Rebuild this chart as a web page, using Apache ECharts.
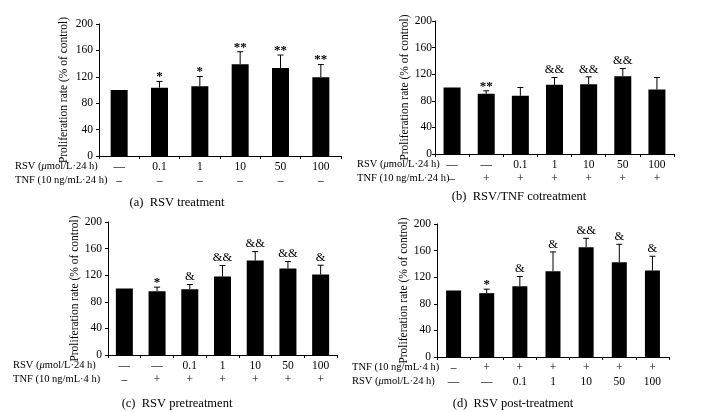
<!DOCTYPE html>
<html><head><meta charset="utf-8">
<script src="https://cdn.jsdelivr.net/npm/echarts@6/dist/echarts.min.js"></script>
<style>html,body{margin:0;padding:0;background:#fff}#c{width:708px;height:412px}</style>
</head><body><div id="c"></div>
<script>
// Panel (a) RSV treatment
const rowA1 = ['—','0.1','1','10','50','100'];
const rowA2 = ['–','–','–','–','–','–'];
const meanA = [100,103.5,105.5,139,133.5,119.5];
const errA  = [0,9.5,15,19,19.5,19];
const sigA  = ['','*','*','**','**','**'];
// Panel (b) RSV/TNF cotreatment
const rowB1 = ['—','—','0.1','1','10','50','100'];
const rowB2 = ['–','+','+','+','+','+','+'];
const meanB = [100,90.5,87.5,104,105,117,97];
const errB  = [0,4.5,12.5,11,11,11.5,18];
const sigB  = ['','**','','&&','&&','&&',''];
// Panel (c) RSV pretreatment
const rowC1 = ['—','—','0.1','1','10','50','100'];
const rowC2 = ['–','+','+','+','+','+','+'];
const meanC = [100,96,99,118,142,130,121];
const errC  = [0,6,7,16.5,13.5,10.5,14];
const sigC  = ['','*','&','&&','&&','&&','&'];
// Panel (d) RSV post-treatment
const rowD1 = ['–','+','+','+','+','+','+'];
const rowD2 = ['—','—','0.1','1','10','50','100'];
const meanD = [100,96,106.5,129,165,142.5,130];
const errD  = [0,6,14.5,29,13.5,27,21.5];
const sigD  = ['','*','&','&','&&','&','&'];

const yTicks = [0,40,80,120,160,200];
const yTitle = 'Proliferation rate (% of control)';
const captions = ['(a)  RSV treatment','(b)  RSV/TNF cotreatment','(c)  RSV pretreatment','(d)  RSV post-treatment'];
const rowNames = [
  ['RSV (','μ','mol/L·24 h)','TNF (10 ng/mL·24 h)', 'rsvFirst'],
  ['RSV (','μ','mol/L·24 h)','TNF (10 ng/mL·24 h)', 'rsvFirst'],
  ['RSV (','μ','mol/L·24 h)','TNF (10 ng/mL·4 h)', 'rsvFirst'],
  ['RSV (','μ','mol/L·24 h)','TNF (10 ng/mL·4 h)', 'tnfFirst']
];

const FONT = "'Liberation Serif','DejaVu Serif',serif";
const panels = [
  {r1:rowA1,r2:rowA2,mean:meanA,err:errA,sig:sigA,grid:{left:99,top:24,width:242,height:132},bw:17,gap:29,lm:6},
  {r1:rowB1,r2:rowB2,mean:meanB,err:errB,sig:sigB,grid:{left:435,top:21,width:239,height:133},bw:17,gap:24,lm:3},
  {r1:rowC1,r2:rowC2,mean:meanC,err:errC,sig:sigC,grid:{left:108,top:222,width:229,height:133},bw:17,gap:27,lm:6},
  {r1:rowD1,r2:rowD2,mean:meanD,err:errD,sig:sigD,grid:{left:437,top:224,width:232,height:133},bw:15,gap:27,lm:6}
];
const rowLabelX = [15,357,13,352];
const captionPos = [[172,191],[514,185],[172,392],[508,392]];

const grid=[],xAxis=[],yAxis=[],series=[],graphic=[],title=[];
panels.forEach((p,k)=>{
  grid.push(Object.assign({containLabel:false},p.grid));
  const cats = p.r1.map((v,i)=>v+'\n'+p.r2[i]);
  xAxis.push({type:'category',gridIndex:k,data:cats,
    axisLine:{lineStyle:{color:'#000',width:1}},
    axisTick:{show:true,length:3,lineStyle:{color:'#000'}},
    axisLabel:{color:'#000',fontFamily:FONT,fontSize:11.5,lineHeight:14,margin:4,interval:0}});
  yAxis.push({type:'value',gridIndex:k,min:0,max:200,interval:40,
    name:yTitle,nameLocation:'middle',nameGap:p.gap,nameRotate:90,nameMoveOverlap:false,
    nameTextStyle:{color:'#000',fontFamily:FONT,fontSize:11.5},
    splitLine:{show:false},
    axisLine:{show:true,lineStyle:{color:'#000',width:1}},
    axisTick:{show:true,length:3,lineStyle:{color:'#000'}},
    axisLabel:{color:'#000',fontFamily:FONT,fontSize:11.5,margin:p.lm}});
  series.push({type:'bar',xAxisIndex:k,yAxisIndex:k,data:p.mean,barWidth:p.bw,
    itemStyle:{color:'#000'},silent:true,animation:false});
  series.push({type:'custom',xAxisIndex:k,yAxisIndex:k,animation:false,silent:true,
    data:p.mean.map((m,i)=>[i,m,p.err[i]]),
    renderItem:function(params,api){
      const i=api.value(0),m=api.value(1),e=api.value(2);
      const base=api.coord([i,m]),top=api.coord([i,m+e]);
      const ch=[];
      if(e>0){
        ch.push({type:'line',shape:{x1:base[0],y1:base[1],x2:top[0],y2:top[1]},style:{stroke:'#000',lineWidth:1}});
        ch.push({type:'line',shape:{x1:top[0]-3,y1:top[1],x2:top[0]+3,y2:top[1]},style:{stroke:'#000',lineWidth:1}});
      }
      const s=p.sig[params.dataIndex];
      if(s){
        const isStar=s.indexOf('*')>=0;
        ch.push({type:'text',x:top[0],y:top[1]-(isStar?-2:1),style:{text:s,fill:'#000',font:(isStar?'bold 13px ':'12.5px ')+FONT,align:'center',verticalAlign:'bottom'}});
      }
      return {type:'group',children:ch};
    }});
  const rn=rowNames[k];
  const axisY=p.grid.top+p.grid.height;
  const rsvText={type:'text',style:{text:'{n|'+rn[0]+'}{i|'+rn[1]+'}{n|'+rn[2]+'}',
    rich:{n:{fontFamily:FONT,fontSize:10.5,fill:'#000'},i:{fontFamily:FONT,fontSize:10.5,fontStyle:'italic',fill:'#000'}},
    verticalAlign:'middle'}};
  const tnfText={type:'text',style:{text:rn[3],font:'10.5px '+FONT,fill:'#000',verticalAlign:'middle'}};
  const first = rn[4]==='rsvFirst'?rsvText:tnfText;
  const second = rn[4]==='rsvFirst'?tnfText:rsvText;
  first.left=rowLabelX[k]; first.top=axisY+5;
  second.left=rowLabelX[k]; second.top=axisY+19;
  graphic.push(first,second);
  title.push({text:captions[k],left:captionPos[k][0],top:captionPos[k][1],textAlign:'center',
    textStyle:{fontFamily:FONT,fontSize:12.5,fontWeight:'normal',color:'#000'}});
});

const chart=echarts.init(document.getElementById('c'),null,{renderer:'canvas'});
chart.setOption({animation:false,backgroundColor:'#fff',grid,xAxis,yAxis,series,graphic,title});
</script></body></html>
